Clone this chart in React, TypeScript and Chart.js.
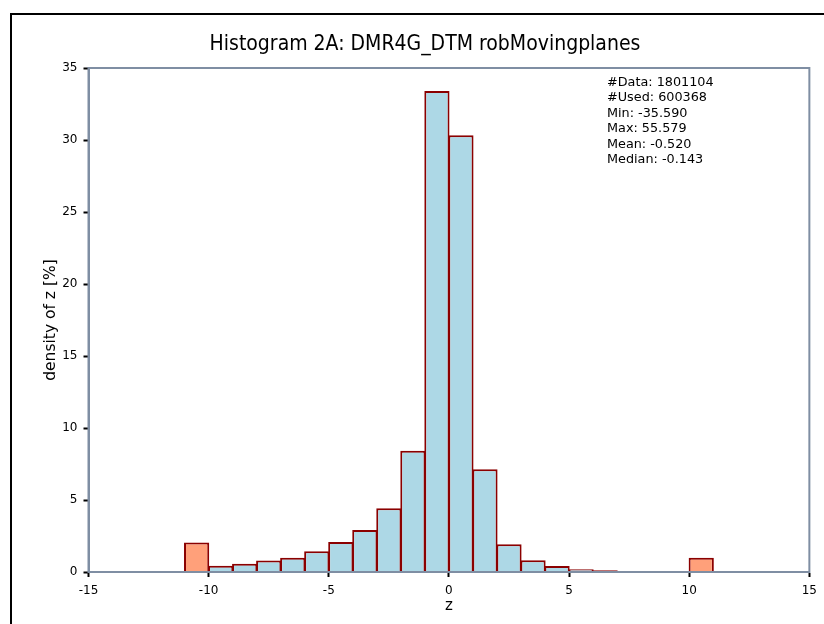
import React, { useEffect, useRef } from "react";
import { Chart, registerables } from "chart.js";

Chart.register(...registerables);

const TITLE = "Histogram 2A: DMR4G_DTM robMovingplanes";
const X_LABEL = "z";
const Y_LABEL = "density of z [%]";

// bin left edges (width 1)
const binStarts = [-11, -10, -9, -8, -7, -6, -5, -4, -3, -2, -1, 0, 1, 2, 3, 4, 5, 6, 7, 8, 9, 10];
// density per bin [%]
const densities = [2.05, 0.43, 0.58, 0.8, 0.99, 1.44, 2.08, 2.92, 4.42, 8.42, 33.4, 30.33, 7.13, 1.92, 0.82, 0.42, 0.19, 0.12, 0.06, 0.04, 0.04, 0.99];
// outlier bins (values clipped to the range)
const outliers = [true, false, false, false, false, false, false, false, false, false, false, false, false, false, false, false, false, false, false, false, false, true];

const statsLines = [
  "#Data: 1801104",
  "#Used: 600368",
  "Min: -35.590",
  "Max: 55.579",
  "Mean: -0.520",
  "Median: -0.143",
];

const X_MIN = -15;
const X_MAX = 15;
const X_STEP = 5;
const Y_MIN = 0;
const Y_MAX = 35;
const Y_STEP = 5;

const FONT = "'DejaVu Sans', Verdana, sans-serif";
const TITLE_FONT = "'DejaVu Sans Condensed', 'Liberation Sans Narrow', 'DejaVu Sans', sans-serif";
const AXIS_COLOR = "#7f8ea3";

export default function App() {
  const ref = useRef<HTMLCanvasElement | null>(null);

  useEffect(() => {
    if (!ref.current) return;
    const framePlugin = {
      id: "framePlugin",
      afterDatasetsDraw(chart: any) {
        const { ctx, chartArea } = chart;
        ctx.save();
        ctx.strokeStyle = AXIS_COLOR;
        ctx.lineWidth = 2;
        ctx.strokeRect(chartArea.left, chartArea.top, chartArea.right - chartArea.left, chartArea.bottom - chartArea.top);
        ctx.restore();
      },
      afterDraw(chart: any) {
        const { ctx } = chart;
        ctx.save();
        ctx.strokeStyle = "#000";
        ctx.lineWidth = 2;
        ctx.strokeRect(11, 14, 900, 800);
        ctx.fillStyle = "#000";
        ctx.font = `12.8px ${FONT}`;
        ctx.textBaseline = "middle";
        ctx.textAlign = "left";
        statsLines.forEach((s, i) => {
          ctx.fillText(s, 607, 82.5 + i * 15.5);
        });
        ctx.restore();
      },
    };

    const chart = new Chart(ref.current, {
      type: "bar",
      data: {
        datasets: [
          {
            data: binStarts.map((s, i) => ({ x: s + 0.5, y: densities[i] })),
            backgroundColor: outliers.map((o) => (o ? "#ffa07a" : "#add8e6")),
            borderColor: "#8b0000",
            borderWidth: 2,
            barPercentage: 1.05,
            categoryPercentage: 1,
          },
        ],
      },
      options: {
        responsive: false,
        animation: false,
        layout: { padding: { left: 38, right: 12, top: 0, bottom: 0 } },
        plugins: {
          legend: { display: false },
          tooltip: { enabled: false },
          title: {
            display: true,
            text: TITLE,
            color: "#000",
            font: { family: TITLE_FONT, size: 21, weight: "normal" },
            padding: { top: 32.4, bottom: 10.4 },
          },
        },
        scales: {
          x: {
            type: "linear",
            min: X_MIN,
            max: X_MAX,
            offset: false,
            afterFit: (s: any) => {
              s.height = 52;
            },
            ticks: {
              stepSize: X_STEP,
              color: "#000",
              font: { family: FONT, size: 12 },
              padding: 7,
              maxRotation: 0,
            },
            grid: {
              offset: false,
              drawOnChartArea: false,
              drawTicks: true,
              tickLength: 5,
              tickColor: "#000",
              tickWidth: 2,
              color: "#000",
            },
            border: { display: true, color: AXIS_COLOR, width: 2 },
            title: {
              display: true,
              text: X_LABEL,
              color: "#000",
              font: { family: FONT, size: 15 },
              padding: { top: 0, bottom: 9 },
            },
          },
          y: {
            type: "linear",
            min: Y_MIN,
            max: Y_MAX,
            afterFit: (s: any) => {
              s.width = 50.5;
            },
            ticks: {
              stepSize: Y_STEP,
              color: "#000",
              font: { family: FONT, size: 12 },
              padding: 6,
            },
            grid: {
              drawOnChartArea: false,
              drawTicks: true,
              tickLength: 5,
              tickColor: "#000",
              tickWidth: 2,
              color: "#000",
            },
            border: { display: true, color: AXIS_COLOR, width: 2 },
            title: {
              display: true,
              text: Y_LABEL,
              color: "#000",
              font: { family: FONT, size: 15.5 },
              padding: { top: 3.5, bottom: 0 },
            },
          },
        },
      },
      plugins: [framePlugin],
    } as any);

    return () => chart.destroy();
  }, []);

  return (
    <div style={{ position: "fixed", left: 0, top: 0, width: 824, height: 624, background: "#fff" }}>
      <canvas ref={ref} width={824} height={624} />
    </div>
  );
}
